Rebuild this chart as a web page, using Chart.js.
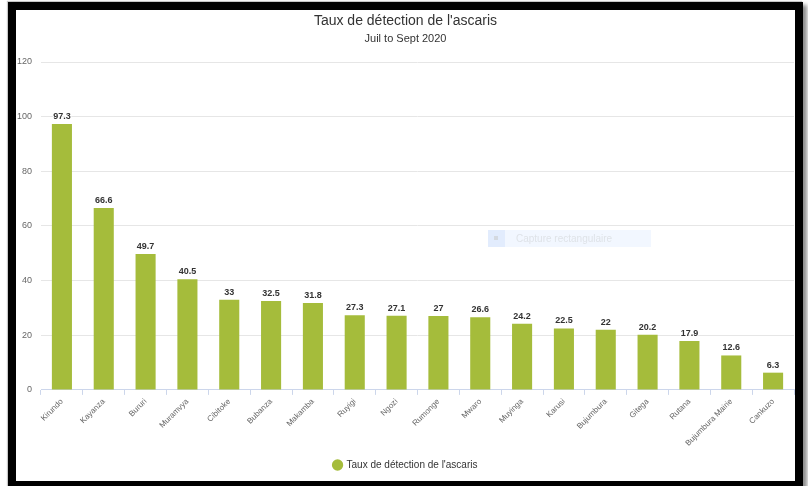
<!DOCTYPE html>
<html>
<head>
<meta charset="utf-8">
<title>Taux de détection de l'ascaris</title>
<script src="https://cdn.jsdelivr.net/npm/chart.js@4.4.1/dist/chart.umd.min.js"></script>
<style>
  html, body { margin: 0; padding: 0; background: #fff; overflow: hidden; }
  #frame {
    position: absolute;
    left: 8px;
    top: 2px;
    width: 779px;
    height: 471px;
    border: 8px solid #000;
    background: #fff;
    box-shadow: 4px 3px 4px rgba(0, 0, 0, 0.45), -1px -1px 1px #c8c8c8;
  }
  #chart1 { display: block; }
</style>
</head>
<body>
<div id="frame">
  <canvas id="chart1" width="779" height="471"></canvas>
</div>
<script>
var categories = ['Kirundo', 'Kayanza', 'Bururi', 'Muramvya', 'Cibitoke', 'Bubanza',
  'Makamba', 'Ruyigi', 'Ngozi', 'Rumonge', 'Mwaro', 'Muyinga', 'Karusi',
  'Bujumbura', 'Gitega', 'Rutana', 'Bujumbura Mairie', 'Cankuzo'];
var detectionRates = [97.3, 66.6, 49.7, 40.5, 33, 32.5, 31.8, 27.3, 27.1, 27,
  26.6, 24.2, 22.5, 22, 20.2, 17.9, 12.6, 6.3];
var yTicks = [0, 20, 40, 60, 80, 100, 120];

var seriesName = "Taux de détection de l'ascaris";
var barColor = '#a5bc3b';
var fontFamily = '"Liberation Sans", Arial, sans-serif';

Chart.defaults.font.family = fontFamily;
Chart.defaults.color = '#666666';

// value printed above each column
var valueLabels = {
  id: 'valueLabels',
  afterDatasetsDraw: function(chart) {
    var ctx = chart.ctx;
    var meta = chart.getDatasetMeta(0);
    var values = chart.data.datasets[0].data;
    ctx.save();
    ctx.font = 'bold 9px ' + fontFamily;
    ctx.textAlign = 'center';
    ctx.textBaseline = 'bottom';
    ctx.lineJoin = 'round';
    ctx.lineWidth = 2;
    ctx.strokeStyle = '#ffffff';
    ctx.fillStyle = '#333333';
    meta.data.forEach(function(bar, i) {
      var text = String(values[i]);
      ctx.strokeText(text, bar.x, bar.y - 3);
      ctx.fillText(text, bar.x, bar.y - 3);
    });
    ctx.restore();
  }
};

// faint screen-capture hint left over on top of the plot
var captureHint = {
  id: 'captureHint',
  afterDraw: function(chart) {
    var ctx = chart.ctx;
    ctx.save();
    ctx.fillStyle = 'rgba(236, 244, 255, 0.7)';
    ctx.fillRect(472, 220, 163, 17);
    ctx.fillStyle = 'rgba(222, 234, 252, 0.8)';
    ctx.fillRect(472, 220, 17, 17);
    ctx.fillStyle = '#d4d9e0';
    ctx.fillRect(478, 226, 4, 4);
    ctx.font = '10px ' + fontFamily;
    ctx.textBaseline = 'middle';
    ctx.fillStyle = '#dfe3e8';
    ctx.fillText('Capture rectangulaire', 500, 229);
    ctx.restore();
  }
};

var ctx = document.getElementById('chart1').getContext('2d');
var myChart = new Chart(ctx, {
  type: 'bar',
  data: {
    labels: categories,
    datasets: [{
      label: seriesName,
      data: detectionRates,
      backgroundColor: barColor,
      borderWidth: 0,
      categoryPercentage: 0.8,
      barPercentage: 0.6
    }]
  },
  options: {
    responsive: false,
    animation: false,
    layout: {
      padding: { left: 1, right: 1, top: 0, bottom: 1 }
    },
    scales: {
      x: {
        // rotated labels may hang past the plot edges, don't shrink the plot for them
        afterFit: function(scale) {
          scale.paddingLeft = 0;
          scale.paddingRight = 0;
        },
        grid: {
          drawOnChartArea: false,
          drawTicks: true,
          tickLength: 5,
          color: '#ccd6eb'
        },
        border: { color: '#ccd6eb' },
        ticks: {
          autoSkip: false,
          minRotation: 45,
          maxRotation: 45,
          padding: 2,
          color: '#666666',
          font: { size: 8 }
        }
      },
      y: {
        min: 0,
        max: 120,
        afterBuildTicks: function(scale) {
          scale.ticks = yTicks.map(function(v) { return { value: v }; });
        },
        // narrow label column, labels end 9px left of the plot
        afterFit: function(scale) {
          scale.width = 24;
        },
        grid: {
          color: '#e6e6e6',
          drawTicks: false
        },
        border: { display: false },
        ticks: {
          padding: 9,
          color: '#666666',
          font: { size: 9 }
        }
      }
    },
    plugins: {
      title: {
        display: true,
        text: seriesName,
        color: '#333333',
        font: { size: 14, weight: 'normal' },
        padding: { top: 3, bottom: 3 }
      },
      subtitle: {
        display: true,
        text: 'Juil to Sept 2020',
        color: '#333333',
        font: { size: 11 },
        padding: { top: 0, bottom: 16 }
      },
      legend: {
        position: 'bottom',
        labels: {
          usePointStyle: true,
          pointStyle: 'circle',
          boxWidth: 8,
          boxHeight: 8,
          color: '#333333',
          font: { size: 10 },
          padding: 10
        }
      },
      tooltip: { enabled: false }
    }
  },
  plugins: [valueLabels, captureHint]
});
</script>
</body>
</html>
